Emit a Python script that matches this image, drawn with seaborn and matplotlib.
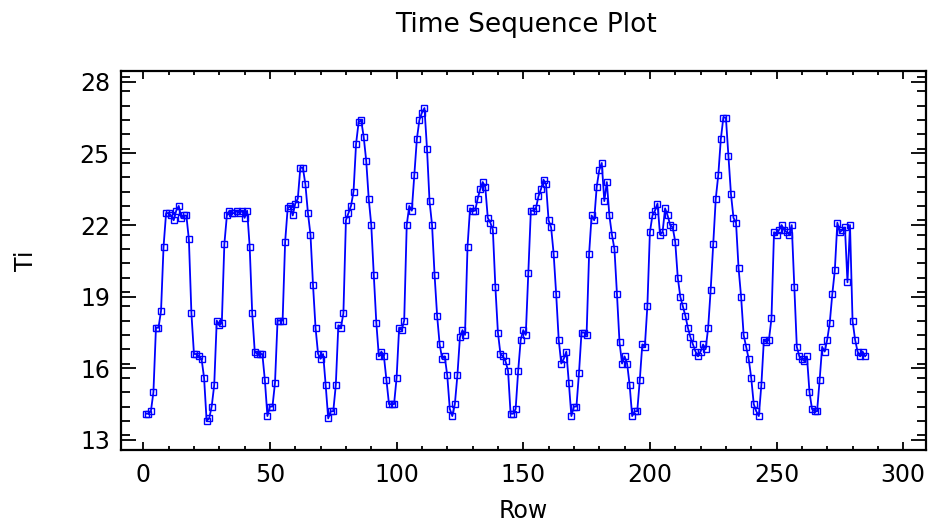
import numpy as np
import pandas as pd
import matplotlib
matplotlib.use("Agg")
import matplotlib.pyplot as plt
from matplotlib.ticker import MultipleLocator
import seaborn as sns

title = "Time Sequence Plot"
x_label = "Row"
y_label = "Ti"
x_ticks = [0, 50, 100, 150, 200, 250, 300]
y_ticks = [13, 16, 19, 22, 25, 28]

ti_values = [
    14.1, 14.1, 14.2, 15.0, 17.7, 17.7, 18.4, 21.1, 22.5, 22.5,
    22.4, 22.2, 22.6, 22.8, 22.3, 22.4, 22.4, 21.4, 18.3, 16.6,
    16.6, 16.5, 16.4, 15.6, 13.8, 13.9, 14.4, 15.3, 18.0, 17.8,
    17.9, 21.2, 22.4, 22.6, 22.5, 22.5, 22.6, 22.5, 22.6, 22.3,
    22.6, 21.1, 18.3, 16.7, 16.6, 16.6, 16.6, 15.5, 14.0, 14.4,
    14.4, 15.4, 18.0, 18.0, 18.0, 21.3, 22.7, 22.8, 22.4, 22.9,
    23.1, 24.4, 24.4, 23.7, 22.5, 21.6, 19.5, 17.7, 16.6, 16.4,
    16.6, 15.3, 13.9, 14.2, 14.2, 15.3, 17.8, 17.7, 18.3, 22.2,
    22.5, 22.8, 23.4, 25.4, 26.3, 26.4, 25.7, 24.7, 23.1, 22.0,
    19.9, 17.9, 16.5, 16.7, 16.5, 15.5, 14.5, 14.5, 14.5, 15.6,
    17.7, 17.6, 18.0, 22.0, 22.8, 22.6, 24.1, 25.6, 26.4, 26.7,
    26.9, 25.2, 23.0, 22.0, 19.9, 18.2, 17.0, 16.4, 16.5, 15.7,
    14.3, 14.0, 14.5, 15.7, 17.3, 17.6, 17.4, 21.1, 22.7, 22.6,
    22.6, 23.1, 23.5, 23.8, 23.6, 22.3, 22.1, 21.8, 19.4, 17.5,
    16.6, 16.5, 16.3, 15.9, 14.1, 14.1, 14.3, 15.9, 17.2, 17.6,
    17.4, 20.0, 22.6, 22.6, 22.7, 23.2, 23.5, 23.9, 23.7, 22.2,
    21.9, 20.8, 19.1, 17.2, 16.2, 16.4, 16.7, 15.4, 14.0, 14.4,
    14.4, 15.8, 17.5, 17.5, 17.4, 20.8, 22.4, 22.2, 23.6, 24.3,
    24.6, 23.0, 23.8, 22.4, 21.6, 21.0, 19.1, 17.1, 16.2, 16.5,
    16.2, 15.3, 14.0, 14.2, 14.2, 15.5, 17.0, 16.9, 18.6, 21.7,
    22.4, 22.6, 22.9, 21.6, 21.7, 22.7, 22.4, 22.0, 21.9, 21.3,
    19.8, 19.0, 18.6, 18.2, 17.7, 17.3, 17.0, 16.7, 16.5, 16.7,
    17.0, 16.8, 17.7, 19.3, 21.2, 23.1, 24.1, 25.6, 26.5, 26.5,
    24.9, 23.3, 22.3, 22.1, 20.2, 19.0, 17.4, 16.9, 16.4, 15.6,
    14.5, 14.2, 14.0, 15.3, 17.2, 17.1, 17.2, 18.1, 21.7, 21.6,
    21.8, 22.0, 21.8, 21.7, 21.6, 22.0, 19.4, 16.9, 16.5, 16.4,
    16.3, 16.5, 15.0, 14.3, 14.2, 14.2, 15.5, 16.9, 16.7, 17.2,
    17.9, 19.1, 20.1, 22.1, 21.7, 21.8, 21.9, 19.6, 22.0, 18.0,
    17.2, 16.7, 16.5, 16.7, 16.5,
]
rows = list(range(1, len(ti_values) + 1))

df = pd.DataFrame({"Row": rows, "Ti": ti_values})

sns.set_style("ticks")
plt.rcParams["font.family"] = ["DejaVu Sans"]
plt.rcParams["text.color"] = "black"
plt.rcParams["axes.labelcolor"] = "black"
plt.rcParams["xtick.color"] = "black"
plt.rcParams["ytick.color"] = "black"

fig = plt.figure(figsize=(9.32, 5.23), dpi=100)
ax = fig.add_axes([121 / 932, 1 - 450 / 523, (926 - 121) / 932, (450 - 71) / 523])

sns.lineplot(data=df, x="Row", y="Ti", ax=ax, color="#0000FF", linewidth=1.3,
             marker="s", markersize=4.8, markerfacecolor="none",
             markeredgecolor="#0000FF", markeredgewidth=1.0)

ax.set_xlim(-8.8, 309)
ax.set_ylim(12.58, 28.45)
ax.set_xticks(x_ticks)
ax.set_yticks(y_ticks)
ax.xaxis.set_minor_locator(MultipleLocator(10))
ax.yaxis.set_minor_locator(MultipleLocator(0.6))

ax.tick_params(axis="both", which="both", direction="in", top=True, right=True,
               color="black", labelcolor="black", width=1.3)
ax.tick_params(axis="x", which="major", length=6, pad=9, labelsize=17)
ax.tick_params(axis="x", which="minor", length=3)
ax.tick_params(axis="y", which="major", length=11, pad=8, labelsize=17)
ax.tick_params(axis="y", which="minor", length=6.5)

for sp in ax.spines.values():
    sp.set_visible(True)
    sp.set_linewidth(1.6)
    sp.set_color("black")

ax.set_xlabel(x_label, fontsize=17, labelpad=9, color="black")
ax.set_ylabel(y_label, fontsize=17, labelpad=30, color="black")
ax.grid(False)

fig.text(526 / 932, 1 - 25 / 523, title, ha="center", va="center",
         fontsize=19, color="black")

fig.savefig("out.png", dpi=100)
